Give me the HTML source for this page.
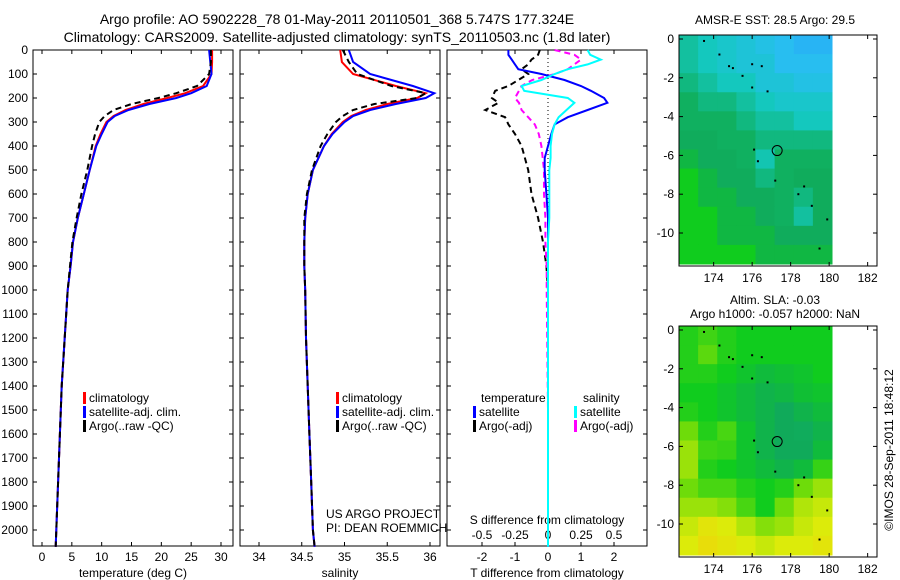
<!DOCTYPE html>
<html><head><meta charset="utf-8"><style>
body{margin:0;background:#fff;width:900px;height:580px;overflow:hidden}
svg{display:block;font-family:"Liberation Sans",sans-serif}
text{fill:#000}
</style></head><body>
<svg id="c" width="900" height="580" xmlns="http://www.w3.org/2000/svg"></svg>
<script>
// ---- data ----
const depths=[0,50,100,150,180,200,225,250,275,300,350,400,500,600,700,800,900,1000,1200,1400,1600,1800,2000,2070];
const tempClim=[28.5,28.5,28.4,27,24,21,17,14,12,10.8,9.8,9,8,7,6,5.2,4.8,4.3,3.8,3.3,3,2.7,2.4,2.3];
const tempSat=[28.0,28.2,28.4,27.6,25,22.5,18,14.5,12.2,11,10,9.1,8,7,6,5.2,4.8,4.3,3.8,3.3,3,2.7,2.4,2.3];
const tempArgo=[28.3,28.3,28.0,26,22.5,19.5,15,12,10.5,9.6,8.9,8.4,7.6,6.6,5.8,5.1,4.7,4.3,3.8,3.3,3,2.7,2.4,2.3];
const salClim=[34.95,34.97,35.1,35.6,35.95,35.85,35.5,35.25,35.08,34.98,34.85,34.76,34.63,34.57,34.54,34.53,34.53,34.54,34.55,34.57,34.59,34.61,34.63,34.65];
const salSat=[35.05,35.1,35.3,35.8,36.05,35.95,35.6,35.3,35.1,35.0,34.86,34.76,34.63,34.57,34.54,34.53,34.53,34.54,34.55,34.57,34.59,34.61,34.63,34.65];
const salArgo=[34.98,35.05,35.15,35.55,35.95,35.85,35.35,35.1,34.98,34.9,34.8,34.72,34.62,34.56,34.53,34.53,34.53,34.54,34.55,34.57,34.59,34.61,34.63,34.65];
const diffDepths=[0,20,40,60,80,100,125,150,170,200,220,250,280,310,350,400,450,500,600,700,800,900,1000,1500,2070];
const dTsat=[-1.2,-1.2,-1.1,-1.0,-0.9,-0.2,0.5,1.0,1.3,1.7,1.8,1.2,0.6,0.2,0.1,0.0,-0.1,-0.1,-0.05,0,0,0,0,0,0];
const dSsat=[0.3,0.32,0.4,0.3,0.15,0.05,-0.05,-0.2,-0.18,0.15,0.2,0.14,0.08,0.05,0.03,0.02,0.02,0.01,0.01,0.01,0,0,0,0,0];
const dTargo=[-0.25,-0.3,-0.5,-0.6,-0.8,-0.6,-0.9,-1.2,-1.6,-1.7,-1.5,-1.9,-1.3,-1.2,-1.0,-0.8,-0.7,-0.6,-0.5,-0.3,-0.15,-0.05,0,0,0];
const dSargo=[0.05,0.2,0.25,0.2,0.15,0.05,-0.12,-0.2,-0.22,-0.25,-0.22,-0.2,-0.15,-0.1,-0.07,-0.05,-0.04,-0.03,-0.03,-0.02,-0.02,-0.01,-0.01,0,0];
const depthTicks=[0,100,200,300,400,500,600,700,800,900,1000,1100,1200,1300,1400,1500,1600,1700,1800,1900,2000];
const tTicks=[0,5,10,15,20,25,30];
const sTicks=[34,34.5,35,35.5,36];
const dtTicks=[-2,-1,0,1,2];
const dsTicks=[-0.5,-0.25,0,0.25,0.5];
const latTicks=[0,-2,-4,-6,-8,-10];
const lonTicks=[174,176,178,180,182];
const sstGrid=[
[.45,.4,.35,.3,.25,.2,.15,.15],[.45,.4,.35,.3,.3,.2,.2,.2],[.5,.45,.4,.4,.3,.3,.25,.25],
[.55,.5,.5,.45,.4,.35,.35,.35],[.55,.55,.55,.5,.45,.45,.4,.4],[.6,.6,.55,.55,.5,.5,.5,.5],
[.65,.6,.6,.55,.42,.55,.55,.55],[.7,.65,.6,.6,.5,.55,.6,.6],[.7,.65,.65,.6,.6,.55,.5,.6],
[.7,.7,.65,.65,.6,.55,.45,.6],[.7,.7,.65,.65,.65,.6,.6,.6],[.7,.7,.7,.7,.65,.65,.65,.65]];
const slaGrid=[
[.72,.75,.72,.7,.7,.7,.7,.7],[.72,.78,.72,.7,.7,.7,.7,.7],[.72,.72,.7,.68,.66,.67,.68,.7],
[.7,.7,.68,.66,.64,.65,.67,.68],[.72,.7,.68,.66,.64,.62,.64,.66],[.8,.72,.76,.68,.64,.62,.6,.64],
[.84,.75,.74,.68,.64,.62,.62,.66],[.84,.72,.7,.68,.66,.64,.66,.74],[.8,.76,.76,.72,.7,.72,.8,.84],
[.84,.84,.82,.76,.7,.8,.86,.88],[.88,.92,.9,.86,.82,.84,.88,.9],[.9,.94,.92,.9,.88,.9,.9,.92]];
const coastLon=[173.5,174.3,174.8,175.0,175.5,176.0,176.5,176.0,176.8,176.1,176.3,177.2,178.4,178.7,179.1,179.9,179.5];
const coastLat=[-0.1,-0.8,-1.4,-1.5,-1.9,-1.3,-1.4,-2.5,-2.7,-5.7,-6.3,-7.3,-8.0,-7.6,-8.6,-9.3,-10.8];
const argoLon=177.3, argoLat=-5.75;

const S=document.getElementById('c');const NS='http://www.w3.org/2000/svg';
function el(t,a,p){const e=document.createElementNS(NS,t);for(const k in a)e.setAttribute(k,a[k]);(p||S).appendChild(e);return e;}
function tx(x,y,s,anchor,size,name){const e=el('text',{x:x,y:y,'text-anchor':anchor||'start','font-size':size||12});e.textContent=s;

return e;}
const yD=d=>50+d*0.24;
const xT=v=>42+v*5.967;
const xS=v=>259+(v-34)*85.5;
const xDT=v=>548+v*33;
const xDS=v=>548+v*132;

function box(x0,x1,y0,y1,name){const r=el('rect',{x:x0,y:y0,width:x1-x0,height:y1-y0,fill:'none',stroke:'#000','stroke-width':1});

}
function line(x1,y1,x2,y2,extra){return el('line',Object.assign({x1:x1,y1:y1,x2:x2,y2:y2,stroke:'#000','stroke-width':1},extra||{}));}
function series(xs,ds,xf,color,dash,name){const pts=xs.map((v,i)=>xf(v).toFixed(1)+','+yD(ds[i]).toFixed(1)).join(' ');
const p=el('polyline',{points:pts,fill:'none',stroke:color,'stroke-width':2,'stroke-dasharray':dash||'none'});

}

// titles
tx(337,24,'Argo profile: AO 5902228_78 01-May-2011 20110501_368 5.747S 177.324E','middle',14,'title-line-1');
tx(337,42,'Climatology: CARS2009. Satellite-adjusted climatology: synTS_20110503.nc (1.8d later)','middle',14,'title-line-2');

const panels=[[33,233],[240,440],[447,647]];
panels.forEach((p,i)=>{box(p[0],p[1],50,546,'profile-panel-'+(i+1));
depthTicks.forEach(d=>{line(p[0],yD(d),p[0]+4,yD(d));line(p[1],yD(d),p[1]-4,yD(d));});});
depthTicks.forEach(d=>tx(28,yD(d)+4,String(d),'end',12,'depth-tick-label'));
// x ticks
tTicks.forEach(v=>{line(xT(v),546,xT(v),542);line(xT(v),50,xT(v),54);tx(xT(v),561,String(v),'middle',12,'temp-tick-label');});
sTicks.forEach(v=>{line(xS(v),546,xS(v),542);line(xS(v),50,xS(v),54);tx(xS(v),561,String(v),'middle',12,'sal-tick-label');});
dtTicks.forEach(v=>{line(xDT(v),546,xDT(v),542);tx(xDT(v),561,String(v),'middle',12,'tdiff-tick-label');});
dsTicks.forEach(v=>{line(xDS(v),50,xDS(v),54);tx(xDS(v),539,String(v),'middle',12,'sdiff-tick-label');});
tx(133,577,'temperature (deg C)','middle',12,'temp-axis-title');
tx(340,577,'salinity','middle',12,'sal-axis-title');
tx(547,577,'T difference from climatology','middle',12,'tdiff-axis-title');
tx(547,524,'S difference from climatology','middle',12,'sdiff-axis-title');
tx(326,518,'US ARGO PROJECT','start',12,'project-label');
tx(326,532,'PI: DEAN ROEMMICH','start',12,'pi-label');

// profiles
series(tempClim,depths,xT,'#f00',null,'temp-climatology-line');
series(tempSat,depths,xT,'#00f',null,'temp-satellite-line');
series(tempArgo,depths,xT,'#000','6,4','temp-argo-line');
series(salClim,depths,xS,'#f00',null,'sal-climatology-line');
series(salSat,depths,xS,'#00f',null,'sal-satellite-line');
series(salArgo,depths,xS,'#000','6,4','sal-argo-line');
line(548,50,548,546,{'stroke-dasharray':'1,3'});
series(dTargo,diffDepths,xDT,'#000','6,4','tdiff-argo-line');
series(dSargo,diffDepths,xDS,'#f0f','6,4','sdiff-argo-line');
series(dTsat,diffDepths,xDT,'#00f',null,'tdiff-satellite-line');
series(dSsat,diffDepths,xDS,'#0ff',null,'sdiff-satellite-line');

// legends
function leg(x,y,color,label,name){const r=el('rect',{x:x-3,y:y-10,width:3,height:12,fill:color});


tx(x+3,y,label,'start',12,name);}
[[86,'climatology','#f00'],[86,'satellite-adj. clim.','#00f'],[86,'Argo(..raw -QC)','#000']].forEach((l,i)=>{
leg(l[0],402+i*14,l[2],l[1],'legend-temp-'+i);leg(l[0]+253,402+i*14,l[2],l[1],'legend-sal-'+i);});
tx(481,402,'temperature','start',12,'legend-diff-temperature-heading');
tx(583,402,'salinity','start',12,'legend-diff-salinity-heading');
leg(476,416,'#00f','satellite','legend-tdiff-satellite');
leg(476,430,'#000','Argo(-adj)','legend-tdiff-argo');
leg(577,416,'#0ff','satellite','legend-sdiff-satellite');
leg(577,430,'#f0f','Argo(-adj)','legend-sdiff-argo');

// maps
function lerp(a,b,t){return a.map((v,i)=>Math.round(v+(b[i]-v)*t));}
const stops=[[0,[40,150,255]],[0.2,[40,190,240]],[0.4,[20,200,190]],[0.55,[16,176,96]],[0.62,[16,170,90]],[0.7,[16,204,30]],[0.8,[110,220,10]],[0.9,[220,235,10]],[1,[250,200,10]]];
function cmap(v){for(let i=1;i<stops.length;i++){if(v<=stops[i][0]){const t=(v-stops[i-1][0])/(stops[i][0]-stops[i-1][0]);const c=lerp(stops[i-1][1],stops[i][1],t);return 'rgb('+c.join(',')+')';}}return 'rgb(250,200,10)';}
function map(y0,grid,name){
const lonX=l=>679+(l-172.2)*19.25, latY=l=>y0+4-l*19.4;
const x0=679,x1=877,yb=y0+231,imW=153,imH=229;
const cw=imW/grid[0].length,ch=imH/grid.length;
grid.forEach((row,r)=>row.forEach((v,c)=>{const e=el('rect',{x:(x0+c*cw).toFixed(2),y:(y0+r*ch).toFixed(2),width:(cw+0.5).toFixed(2),height:(ch+0.5).toFixed(2),fill:cmap(v)});

}));
box(x0,x1,y0,yb,name+'-frame');
latTicks.forEach(l=>{line(x0,latY(l),x0+4,latY(l));line(x1,latY(l),x1-4,latY(l));tx(674,latY(l)+4,String(l),'end',12,name+'-lat-label');});
lonTicks.forEach(l=>{line(lonX(l),yb,lonX(l),yb-4);line(lonX(l),y0,lonX(l),y0+4);tx(lonX(l),yb+16,String(l),'middle',12,name+'-lon-label');});
coastLon.forEach((l,i)=>{const e=el('rect',{x:lonX(l)-1,y:latY(coastLat[i])-1,width:2,height:2,fill:'#000'});

});
const c=el('circle',{cx:lonX(argoLon),cy:latY(argoLat),r:5,fill:'none',stroke:'#000','stroke-width':1});

}
map(35,sstGrid,'sst-map');
map(326,slaGrid,'sla-map');
tx(775,24,'AMSR-E SST: 28.5 Argo: 29.5','middle',12,'sst-map-title');
tx(775,304,'Altim. SLA: -0.03','middle',12,'sla-map-title-1');
tx(775,318,'Argo h1000: -0.057 h2000: NaN','middle',12,'sla-map-title-2');
const v=tx(0,0,'©IMOS 28-Sep-2011 18:48:12','middle',12,'timestamp-label');
v.setAttribute('transform','translate(893,450) rotate(-90)');
</script>
</body></html>
